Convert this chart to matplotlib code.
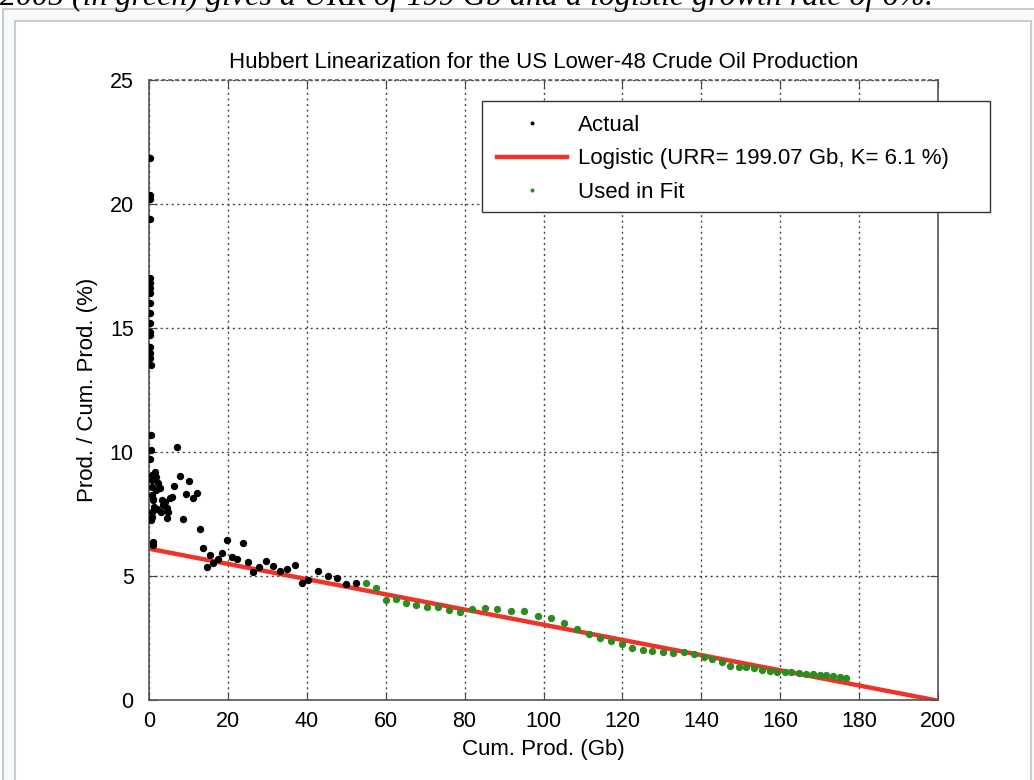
import matplotlib
matplotlib.use("Agg")
import matplotlib.pyplot as plt
from matplotlib.patches import Rectangle

# black points: years not used in the fit (Gb, %)
actual_x = [0.3, 0.3, 0.35, 0.3, 0.3, 0.35, 0.3, 0.35, 0.3, 0.35, 0.3, 0.35, 0.3, 0.35,
            0.3, 0.35, 0.4, 0.4, 0.4, 0.3, 7.0, 0.7, 1.5, 1.9, 0.8, 2.4, 0.7, 1.9, 2.8,
            0.7, 0.9, 3.2, 4.1, 3.6, 5.3, 5.8, 4.5, 4.9, 4.5, 0.7, 0.7, 0.6, 6.3, 7.9,
            10.2, 9.4, 11.1, 12.1, 8.5, 12.9, 0.9, 0.9, 13.8, 14.6, 15.5, 16.3, 17.6,
            18.4, 19.7, 21.0, 22.2, 23.8, 25.2, 26.4, 28.0, 29.7, 31.4, 33.2, 34.9,
            37.0, 38.9, 40.4, 42.9, 45.3, 47.6, 49.9, 52.5, 1.2, 2.1, 1.1, 3.0]
actual_y = [21.84, 20.36, 20.2, 19.38, 17.0, 16.8, 16.6, 16.4, 16.0, 15.6, 15.2, 14.85,
            14.7, 14.25, 14.0, 13.78, 13.5, 10.7, 10.1, 9.7, 10.2, 9.07, 9.2, 9.0, 8.87,
            8.74, 8.6, 8.47, 8.53, 8.27, 8.06, 8.06, 8.0, 7.86, 8.13, 8.2, 7.73, 7.59,
            7.33, 7.59, 7.39, 7.26, 8.63, 9.04, 8.84, 8.29, 8.13, 8.33, 7.28, 6.9, 6.38,
            6.25, 6.14, 5.35, 5.85, 5.51, 5.69, 5.91, 6.44, 5.78, 5.67, 6.32, 5.58, 5.17,
            5.37, 5.62, 5.42, 5.21, 5.27, 5.44, 4.73, 4.84, 5.2, 5.01, 4.9, 4.66, 4.7,
            7.8, 7.7, 8.1, 7.6]

# green points: years used in the fit
fit_x = [55.0, 57.5, 60.1, 62.6, 65.1, 67.7, 70.4, 73.2, 76.1, 78.9, 82.0, 85.1, 88.3,
         91.7, 95.1, 98.5, 101.9, 105.1, 108.4, 111.5, 114.2, 117.2, 119.8, 122.4,
         125.2, 127.6, 130.3, 132.8, 135.5, 138.1, 140.6, 142.8, 145.2, 147.4, 149.5,
         151.4, 153.4, 155.3, 157.3, 159.2, 161.2, 162.8, 164.8, 166.5, 168.2, 170.0,
         171.6, 173.4, 175.1, 176.7]
fit_y = [4.73, 4.5, 4.03, 4.07, 3.92, 3.83, 3.76, 3.74, 3.63, 3.56, 3.66, 3.72, 3.67,
         3.58, 3.60, 3.40, 3.31, 3.12, 2.88, 2.66, 2.51, 2.39, 2.24, 2.11, 2.02, 1.98,
         1.94, 1.88, 1.92, 1.85, 1.75, 1.64, 1.52, 1.38, 1.33, 1.32, 1.28, 1.21, 1.16,
         1.13, 1.13, 1.13, 1.10, 1.05, 1.03, 1.01, 1.01, 0.98, 0.94, 0.87]

urr = 199.07
k = 6.1
line_x = [0, urr]
line_y = [k, 0]

W, H = 1034, 780
fig = plt.figure(figsize=(W / 100, H / 100), dpi=100)
plt.rcParams['font.family'] = ['Liberation Sans', 'DejaVu Sans']

# page frame around the figure
fig.patches.append(Rectangle((3 / W, -0.01), 1.1, 1 - 9 / H + 0.01, transform=fig.transFigure,
                             facecolor='#f8f9fa', edgecolor='#c8ccd1', lw=1.5, zorder=-3))
fig.patches.append(Rectangle((15 / W, -0.01), (1031 - 15) / W, 1 - 21 / H + 0.01,
                             transform=fig.transFigure, facecolor='white',
                             edgecolor='#c8ccd1', lw=1.5, zorder=-2))
fig.text(0.0, 1 - 5 / H, "2005 (in green) gives a URR of 199 Gb and a logistic growth rate of 6%.",
         family='Liberation Serif', style='italic', fontsize=23, va='baseline', ha='left')

ax = fig.add_axes([149 / W, 1 - 700 / H, (938 - 149) / W, (700 - 80) / H])
ax.plot(actual_x, actual_y, 'o', color='black', ms=5.3, mec='none', label='Actual', zorder=3)
ax.plot(line_x, line_y, '-', color='#ee3328', lw=3.2,
        label='Logistic (URR= 199.07 Gb, K= 6.1 %)', zorder=2)
ax.plot(fit_x, fit_y, 'o', color='#2e8b22', ms=5.3, mec='none', label='Used in Fit', zorder=4)

ax.set_xlim(0, 200)
ax.set_ylim(0, 25)
ax.set_xticks(range(0, 201, 20))
ax.set_yticks(range(0, 26, 5))
ax.grid(True, color='#444444', ls=(0, (1.5, 2.5)), lw=1)
ax.tick_params(direction='in', top=True, right=True, length=6, labelsize=15.5,
               color='#444444')
ax.tick_params(axis='y', pad=11)
ax.tick_params(axis='x', pad=8)
for s in ax.spines.values():
    s.set_color('#555555')
    s.set_linewidth(1.2)
ax.spines['top'].set_linestyle((0, (1.5, 2.5)))

ax.set_title('Hubbert Linearization for the US Lower-48 Crude Oil Production',
             fontsize=16, pad=9)
ax.set_xlabel('Cum. Prod. (Gb)', fontsize=16, labelpad=5)
ax.set_ylabel('Prod. / Cum. Prod. (%)', fontsize=16, labelpad=8)

# legend box wider than its text, as in the original
ax.add_patch(Rectangle((0.422, 0.787), 0.644, 0.179, transform=ax.transAxes,
                       facecolor='white', edgecolor='#333333', lw=1.0,
                       clip_on=False, zorder=6))
leg = ax.legend(loc='upper left', bbox_to_anchor=(0.441, 0.9435), borderaxespad=0,
                frameon=False, fontsize=16, handlelength=3.15, handletextpad=0.5,
                markerscale=0.55, borderpad=0, labelspacing=0.56)
leg.set_zorder(7)

fig.savefig('out.png', dpi=100)
